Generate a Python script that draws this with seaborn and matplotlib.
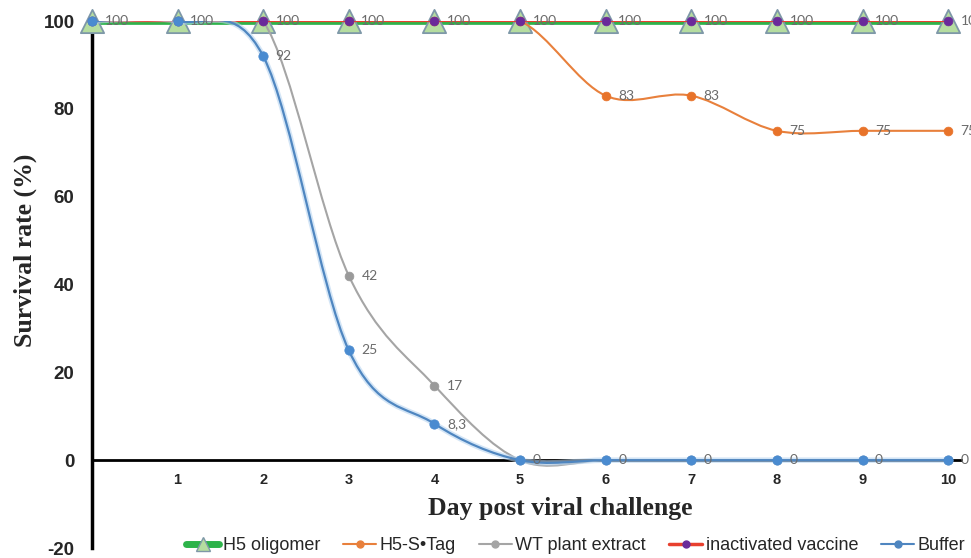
import matplotlib
matplotlib.use("Agg")
import matplotlib.pyplot as plt
import numpy as np
import seaborn as sns
from matplotlib.path import Path
from matplotlib.patches import PathPatch
from matplotlib.lines import Line2D

# Data (survival rate in % per day)
days = [0, 1, 2, 3, 4, 5, 6, 7, 8, 9, 10]
h5_oligomer = [100, 100, 100, 100, 100, 100, 100, 100, 100, 100, 100]
h5_stag = [100, 100, 100, 100, 100, 100, 83, 83, 75, 75, 75]
wt_extract = [100, 100, 100, 42, 17, 0, 0, 0, 0, 0, 0]
vaccine = [100, 100, 100, 100, 100, 100, 100, 100, 100, 100, 100]
buffer = [100, 100, 92, 25, 8.3, 0, 0, 0, 0, 0, 0]

series_names = ["H5 oligomer", "H5-S\u2022Tag", "WT plant extract",
                "inactivated vaccine", "Buffer"]

sns.set_style("white")
plt.rcParams['font.family'] = ['Liberation Sans', 'DejaVu Sans']
plt.rcParams['axes.unicode_minus'] = False


def smooth_path(x, y):
    # Excel-like smoothed line: cubic bezier through the data points
    pts = np.column_stack([x, y]).astype(float)
    n = len(pts)
    verts = [pts[0]]
    codes = [Path.MOVETO]
    for i in range(n - 1):
        p0 = pts[max(i - 1, 0)]
        p1 = pts[i]
        p2 = pts[i + 1]
        p3 = pts[min(i + 2, n - 1)]
        verts += [p1 + (p2 - p0) / 6, p2 - (p3 - p1) / 6, p2]
        codes += [Path.CURVE4] * 3
    return Path(verts, codes)


def draw_curve(ax, y, color, lw, z, alpha=1.0):
    patch = PathPatch(smooth_path(days, y), fill=False, edgecolor=color,
                      lw=lw, zorder=z, alpha=alpha, capstyle='round',
                      joinstyle='round')
    ax.add_patch(patch)


fig = plt.figure(figsize=(9.71, 5.58), dpi=100)
ax = fig.add_axes([0.0947, 0.0179, 0.895, 0.9444])

# H5 oligomer
draw_curve(ax, h5_oligomer, "#2DB34A", 5.5, 2)
sns.scatterplot(x=days, y=h5_oligomer, marker="^", s=280, color="#B5DDA0",
                edgecolor="#7E98A8", linewidth=1.3, zorder=3, clip_on=False, ax=ax)
# H5-S•Tag
draw_curve(ax, h5_stag, "#E8803C", 1.5, 4)
sns.scatterplot(x=days, y=h5_stag, marker="o", s=40, color="#E8732A",
                edgecolor="#E8732A", zorder=5, clip_on=False, ax=ax)
# WT plant extract
draw_curve(ax, wt_extract, "#A5A5A5", 1.5, 6)
sns.scatterplot(x=days, y=wt_extract, marker="o", s=40, color="#9A9A9A",
                edgecolor="#9A9A9A", zorder=7, clip_on=False, ax=ax)
# inactivated vaccine
draw_curve(ax, vaccine, "#E8402E", 1.5, 8)
sns.scatterplot(x=days, y=vaccine, marker="o", s=40, color="#6A2A9A",
                edgecolor="#6A2A9A", zorder=9, clip_on=False, ax=ax)
# Buffer (with soft glow)
draw_curve(ax, buffer, "#B7D4F0", 4, 10, alpha=0.6)
draw_curve(ax, buffer, "#4F86C0", 1.6, 11)
sns.scatterplot(x=days, y=buffer, marker="o", s=45, color="#4A8BD0",
                edgecolor="#4A8BD0", zorder=12, clip_on=False, ax=ax)


def fmt(v):
    return str(int(v)) if float(v).is_integer() else str(v).replace(".", ",")


# data labels, one per distinct position
seen = set()
for vals in [buffer, wt_extract, h5_stag, vaccine, h5_oligomer]:
    for d, v in zip(days, vals):
        key = (d, v)
        if key in seen:
            continue
        seen.add(key)
        ax.annotate(fmt(v), (d, v), xytext=(9, 0), textcoords="offset points",
                    ha="left", va="center", fontsize=10, color="#6B6B6B",
                    family=["Lato", "DejaVu Sans"], zorder=13, annotation_clip=False)

ax.set_xlim(0, 10.15)
ax.set_ylim(-20, 100)
ax.set_xticks(days[1:])
ax.set_yticks([-20, 0, 20, 40, 60, 80, 100])
for s in ["top", "right"]:
    ax.spines[s].set_visible(False)
ax.spines["left"].set_linewidth(2.5)
ax.spines["left"].set_color("black")
ax.spines["bottom"].set_position(("data", 0))
ax.spines["bottom"].set_linewidth(2)
ax.spines["bottom"].set_color("black")
ax.tick_params(axis="y", length=0, pad=12.5, labelsize=13.5)
ax.tick_params(axis="x", length=0, pad=9, labelsize=10.5)
for lab in ax.get_xticklabels() + ax.get_yticklabels():
    lab.set_fontweight("bold")

ax.set_xlabel("Day post viral challenge", fontsize=18.5, fontweight="bold",
              family=["Liberation Serif", "DejaVu Serif"])
ax.xaxis.set_label_coords(0.539, 0.097)
ax.set_ylabel("Survival rate (%)", fontsize=18.5, fontweight="bold",
              family=["Liberation Serif", "DejaVu Serif"])
ax.yaxis.set_label_coords(-0.063, 0.564)

handles = [
    Line2D([], [], color="#2DB34A", lw=5, marker="^", ms=10,
           markerfacecolor="#B5DDA0", markeredgecolor="#7E98A8"),
    Line2D([], [], color="#E8803C", lw=1.5, marker="o", ms=5),
    Line2D([], [], color="#A5A5A5", lw=1.5, marker="o", ms=5),
    Line2D([], [], color="#E8402E", lw=2.5, marker="o", ms=5,
           markerfacecolor="#6A2A9A", markeredgecolor="#6A2A9A"),
    Line2D([], [], color="#4F86C0", lw=1.5, marker="o", ms=5),
]
fig.legend(handles, series_names, loc="center", bbox_to_anchor=(0.593, 0.022),
           ncol=5, frameon=False, fontsize=13, handlelength=1.8,
           handletextpad=0.2, columnspacing=1.3)

fig.savefig("out.png", dpi=100)
